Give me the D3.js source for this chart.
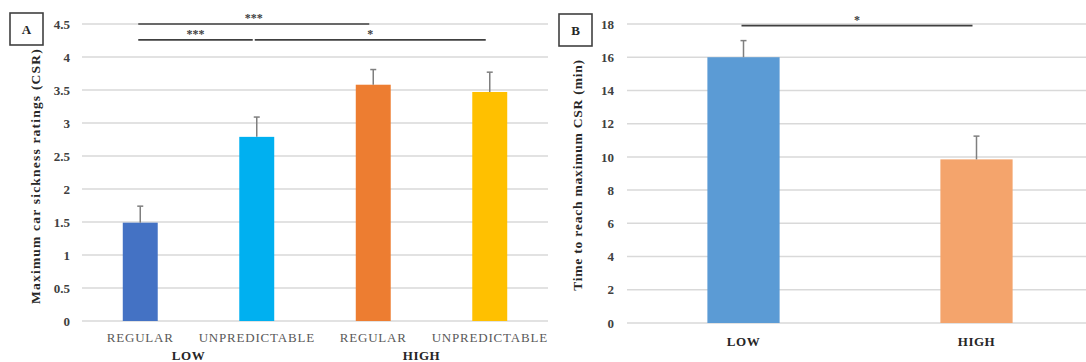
<!DOCTYPE html>
<html>
<head>
<meta charset="utf-8">
<script src="https://cdn.jsdelivr.net/npm/d3@7/dist/d3.min.js"></script>
<style>
  html, body { margin: 0; padding: 0; background: #fff; }
  svg { display: block; }
  text { font-family: "Liberation Serif", "Times New Roman", serif; }
</style>
</head>
<body>
<svg id="chart" width="1086" height="362"></svg>
<script>
// Panel A: maximum car sickness ratings by condition
const conditionsA = ["REGULAR", "UNPREDICTABLE", "REGULAR", "UNPREDICTABLE"];
const groupsA = ["LOW", "HIGH"];
const csrMeans = [1.49, 2.79, 3.58, 3.47];
const csrErrors = [0.25, 0.30, 0.23, 0.30];
const colorsA = ["#4472C4", "#00B0F0", "#ED7D31", "#FFC000"];
const ticksA = [0, 0.5, 1, 1.5, 2, 2.5, 3, 3.5, 4, 4.5];
// significance brackets: [from bar, to bar, level, label]
const sigA = [
  [0, 2, 4.5, "***"],
  [0, 1, 4.26, "***"],
  [1, 3, 4.26, "*"]
];

// Panel B: time to reach maximum CSR
const groupsB = ["LOW", "HIGH"];
const timeMeans = [16.0, 9.85];
const timeErrors = [1.0, 1.4];
const colorsB = ["#5B9BD5", "#F4A46C"];
const ticksB = [0, 2, 4, 6, 8, 10, 12, 14, 16, 18];
const sigB = [[0, 1, 17.9, "*"]];

const svg = d3.select("#chart");

function panel(opts) {
  const g = svg.append("g");
  const x = d3.scaleBand().domain(d3.range(opts.values.length))
    .range([opts.x0, opts.x1]).paddingInner(opts.pad).paddingOuter(opts.pad / 2);
  const y = d3.scaleLinear().domain([0, opts.max]).range([opts.y0, opts.y1]);

  // gridlines
  g.selectAll("line.grid").data(opts.ticks).enter().append("line")
    .attr("x1", opts.x0).attr("x2", opts.x1)
    .attr("y1", d => y(d)).attr("y2", d => y(d))
    .attr("stroke", "#d9d9d9").attr("stroke-width", 1.5);

  // y axis tick labels
  const axis = d3.axisLeft(y).tickValues(opts.ticks).tickSize(0).tickPadding(0)
    .tickFormat(d => String(d));
  const ag = g.append("g").attr("transform", `translate(${opts.labelX},0)`).call(axis);
  ag.select(".domain").remove();
  ag.selectAll("text").attr("font-size", 13).attr("font-weight", "bold")
    .attr("fill", "#404040").attr("font-family", "Liberation Serif, serif");

  // bars
  g.selectAll("rect.bar").data(opts.values).enter().append("rect")
    .attr("x", (d, i) => x(i)).attr("width", x.bandwidth())
    .attr("y", d => y(d)).attr("height", d => y(0) - y(d))
    .attr("fill", (d, i) => opts.colors[i]);

  // error bars (upper only)
  opts.values.forEach((v, i) => {
    const cx = x(i) + x.bandwidth() / 2;
    const top = y(v + opts.errors[i]);
    g.append("line").attr("x1", cx).attr("x2", cx).attr("y1", y(v)).attr("y2", top)
      .attr("stroke", "#7f7f7f").attr("stroke-width", 1.5);
    g.append("line").attr("x1", cx - 3).attr("x2", cx + 3).attr("y1", top).attr("y2", top)
      .attr("stroke", "#7f7f7f").attr("stroke-width", 1.5);
  });

  // significance lines
  opts.sig.forEach(([a, b, lvl, lab]) => {
    const xa = x(a) + x.bandwidth() / 2 - 2;
    const xbEnd = x(b) + x.bandwidth() / 2 - 4;
    g.append("line").attr("x1", xa).attr("x2", xbEnd).attr("y1", y(lvl)).attr("y2", y(lvl))
      .attr("stroke", "#404040").attr("stroke-width", 1.6);
    g.append("text").attr("x", (xa + xbEnd) / 2).attr("y", y(lvl) - 2)
      .attr("text-anchor", "middle").attr("font-size", 12).attr("font-weight", "bold")
      .attr("fill", "#404040").text(lab);
  });

  // letter box
  g.append("rect").attr("x", opts.box[0]).attr("y", opts.box[1])
    .attr("width", opts.box[2]).attr("height", opts.box[2] - 1)
    .attr("fill", "#fff").attr("stroke", "#404040").attr("stroke-width", 1.6);
  g.append("text").attr("x", opts.box[0] + opts.box[2] / 2).attr("y", opts.box[1] + opts.box[2] / 2 + 4)
    .attr("text-anchor", "middle").attr("font-size", 13).attr("font-weight", "bold")
    .attr("fill", "#262626").text(opts.letter);

  // y axis title
  g.append("text").attr("transform", `translate(${opts.titleX},${opts.titleY}) rotate(-90)`)
    .attr("text-anchor", "middle").attr("font-size", 13.5).attr("font-weight", "bold")
    .attr("letter-spacing", opts.titleSpacing)
    .attr("fill", "#262626").text(opts.title);

  return { x, y, g };
}

// ---- Panel A ----
const A = panel({
  x0: 82, x1: 548, y0: 321, y1: 24, max: 4.5, pad: 0.7,
  values: csrMeans, errors: csrErrors, colors: colorsA, ticks: ticksA, sig: sigA,
  labelX: 70, box: [10, 13, 33], letter: "A", titleX: 40, titleY: 176, titleSpacing: 1.2,
  title: "Maximum car sickness ratings (CSR)"
});
A.g.selectAll("text.cat").data(conditionsA).enter().append("text")
  .attr("x", (d, i) => A.x(i) + A.x.bandwidth() / 2).attr("y", 342)
  .attr("text-anchor", "middle").attr("font-size", 13).attr("letter-spacing", 0.8)
  .attr("fill", "#595959").text(d => d);
groupsA.forEach((gname, k) => {
  const cx = (A.x(2 * k) + A.x(2 * k + 1) + A.x.bandwidth()) / 2 - 10;
  A.g.append("text").attr("x", cx).attr("y", 360).attr("text-anchor", "middle")
    .attr("font-size", 13).attr("font-weight", "bold").attr("letter-spacing", 0.5)
    .attr("fill", "#262626").text(gname);
});

// ---- Panel B ----
const B = panel({
  x0: 627, x1: 1093, y0: 323, y1: 24, max: 18, pad: 0.69,
  values: timeMeans, errors: timeErrors, colors: colorsB, ticks: ticksB, sig: sigB,
  labelX: 614, box: [559, 14, 33], letter: "B", titleX: 582, titleY: 175, titleSpacing: 0.8,
  title: "Time to reach maximum CSR (min)"
});
B.g.selectAll("text.cat").data(groupsB).enter().append("text")
  .attr("x", (d, i) => B.x(i) + B.x.bandwidth() / 2).attr("y", 346)
  .attr("text-anchor", "middle").attr("font-size", 13).attr("font-weight", "bold")
  .attr("letter-spacing", 0.5).attr("fill", "#262626").text(d => d);
</script>
</body>
</html>
